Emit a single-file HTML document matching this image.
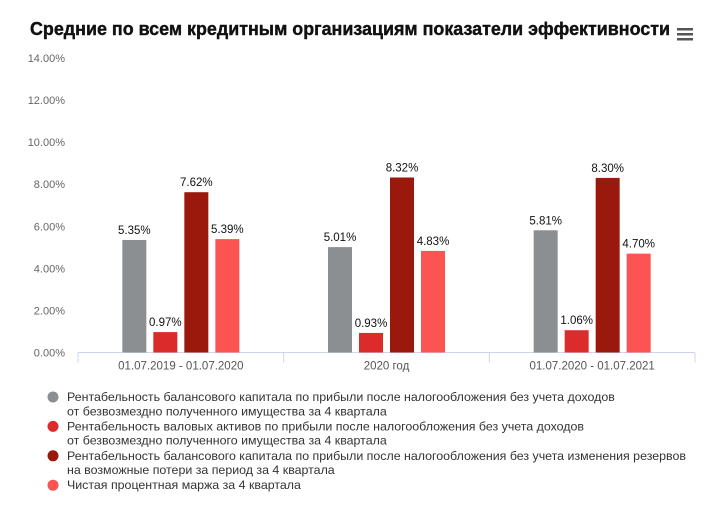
<!DOCTYPE html>
<html><head><meta charset="utf-8"><style>
html,body{margin:0;padding:0;background:#fff;}
svg{display:block;font-family:"Liberation Sans",sans-serif;}
</style></head><body>
<svg id="chart" width="721" height="508">
<text x="30" y="35" font-size="18" font-weight="bold" fill="#111" stroke="#111" stroke-width="0.4" textLength="640" lengthAdjust="spacingAndGlyphs">Средние по всем кредитным организациям показатели эффективности</text>
<g fill="#555">
<rect x="677" y="28" width="16" height="2.5"/><rect x="677" y="33" width="16" height="2.5"/><rect x="677" y="38" width="16" height="2.5"/>
</g>
<g id="yaxis"></g>
<g id="xaxis"></g>
<g id="bars"></g>
<g id="legend"></g>
</svg>
<script>
const categories=["01.07.2019 - 01.07.2020","2020 год","01.07.2020 - 01.07.2021"];
const seriesGray=[5.35,5.01,5.81];
const seriesRed=[0.97,0.93,1.06];
const seriesDark=[7.62,8.32,8.30];
const seriesLight=[5.39,4.83,4.70];
const yTicks=[0,2,4,6,8,10,12,14];
const legendLines=[
 ["Рентабельность балансового капитала по прибыли после налогообложения без учета доходов","от безвозмездно полученного имущества за 4 квартала"],
 ["Рентабельность валовых активов по прибыли после налогообложения без учета доходов","от безвозмездно полученного имущества за 4 квартала"],
 ["Рентабельность балансового капитала по прибыли после налогообложения без учета изменения резервов","на возможные потери за период за 4 квартала"],
 ["Чистая процентная маржа за 4 квартала"]
];
const NS="http://www.w3.org/2000/svg";
const x0=78,x1=695,y0=352.5,yTop=58,ymax=14;
const y=v=>y0-(v/ymax)*(y0-yTop);
const gw=(x1-x0)/categories.length;
function mk(tag,attrs,parent,text){const e=document.createElementNS(NS,tag);for(const k in attrs)e.setAttribute(k,attrs[k]);if(text!==undefined)e.textContent=text;parent.appendChild(e);return e;}
const ya=document.getElementById('yaxis');
yTicks.forEach(t=>{const e=mk('text',{x:65,y:y(t)+4,'font-size':11,fill:'#666','text-anchor':'end'},ya,t.toFixed(2)+'%');

});
const xa=document.getElementById('xaxis');
mk('line',{x1:x0,x2:x1,y1:y0,y2:y0,stroke:'#ccd6eb','stroke-width':1},xa);
for(let i=0;i<=categories.length;i++){mk('line',{x1:x0+i*gw,x2:x0+i*gw,y1:y0,y2:y0+10,stroke:'#ccd6eb'},xa);}
categories.forEach((c,i)=>{const e=mk('text',{x:x0+gw*(i+0.5),y:y0+17,'font-size':11.5,fill:'#555','text-anchor':'middle'},xa,c);

});
const series=[seriesGray,seriesRed,seriesDark,seriesLight];
const colors=['#8c8f92','#dc2b2b','#9a180c','#fc5353'];
const names=['gray','red','dark','light'];
const bw=24,step=31;
const bars=document.getElementById('bars');
categories.forEach((c,i)=>{const cx=x0+gw*(i+0.5);
 series.forEach((s,j)=>{const bx=cx-2*step+(step-bw)/2+j*step;const v=s[i];
  const r=mk('rect',{x:bx,y:y(v),width:bw,height:y0-y(v),fill:colors[j]},bars);
  
  
  const t=mk('text',{x:bx+bw/2,y:y(v)-6,'font-size':11.5,fill:'#111','text-anchor':'middle'},bars,v.toFixed(2)+'%');
  
  
 });});
const lg=document.getElementById('legend');
let ly=401;
legendLines.forEach((lines,j)=>{
 const g=mk('g',{},lg);
 
 
 mk('circle',{cx:53,cy:ly-4,r:5.5,fill:colors[j]},g);
 lines.forEach((l,k)=>{mk('text',{x:67,y:ly+k*14.3,'font-size':12.4,fill:'#333'},g,l);});
 ly+=lines.length*14.7;
});
</script>
</body></html>
